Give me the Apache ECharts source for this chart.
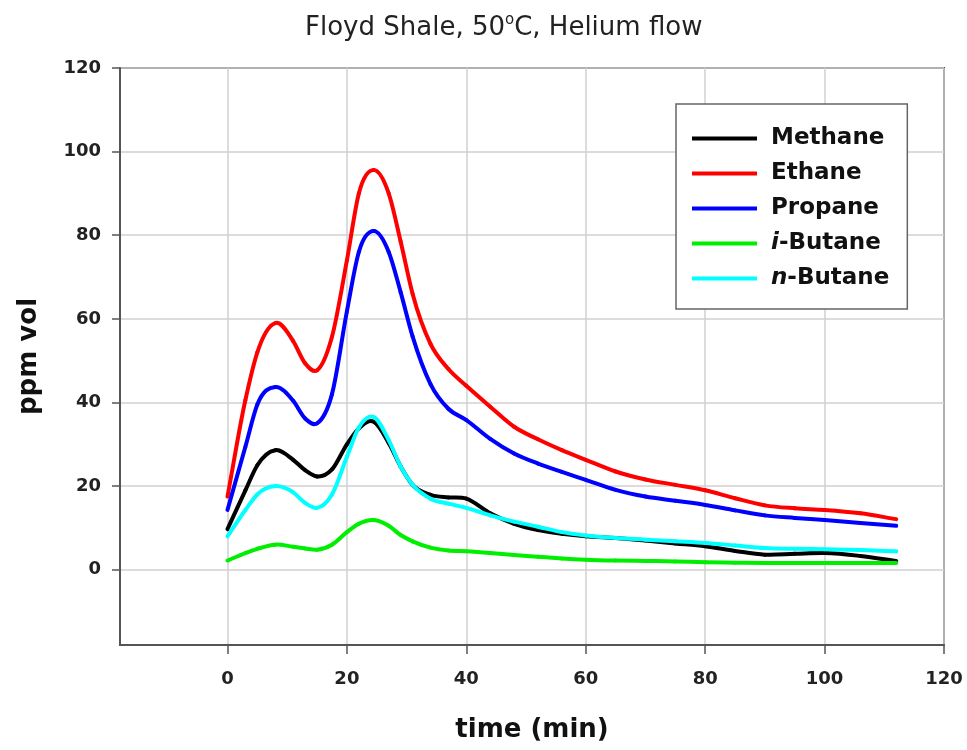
<!DOCTYPE html>
<html>
<head>
<meta charset="utf-8">
<script src="https://cdn.jsdelivr.net/npm/echarts@6/dist/echarts.min.js"></script>
<style>
html,body{margin:0;padding:0;background:#fff;}
#chart{width:967px;height:750px;}
</style>
</head>
<body>
<div id="chart"></div>
<script>
// time (min)
var times   = [0, 3, 5, 8, 11, 13, 15, 17.5, 20, 22, 24.5, 27, 29, 31, 34, 37, 40, 44, 48, 52, 56, 60, 65, 70, 75, 80, 85, 90, 95, 100, 106, 112];
var methane = [9.7, 19, 25, 28.6, 26.3, 23.8, 22.3, 24, 30, 33.8, 35.4, 30.3, 24.7, 20.3, 17.9, 17.3, 17, 13.5, 11, 9.5, 8.6, 8, 7.6, 7, 6.3, 5.6, 4.5, 3.6, 3.8, 4, 3.3, 2.1];
var ethane  = [17.5, 40.6, 52, 59, 54.7, 49.4, 47.7, 55.7, 74, 90, 95.6, 90, 78.5, 66, 54, 48, 44, 39, 34.2, 31.2, 28.6, 26.3, 23.5, 21.6, 20.3, 19, 17.1, 15.4, 14.7, 14.3, 13.5, 12.1];
var propane = [14.3, 29.4, 39.5, 43.7, 40.4, 36.2, 35, 42, 61.8, 76, 81, 76, 66.4, 55.8, 44.4, 38.5, 35.8, 31.3, 27.8, 25.4, 23.4, 21.5, 19.1, 17.5, 16.5, 15.5, 14.2, 13, 12.4, 11.9, 11.2, 10.5];
var iButane = [2.2, 4, 5, 6, 5.5, 5.1, 4.8, 6, 9, 11, 11.9, 10.5, 8.3, 6.8, 5.3, 4.6, 4.4, 4, 3.5, 3.1, 2.7, 2.4, 2.2, 2.1, 2, 1.8, 1.7, 1.6, 1.6, 1.6, 1.6, 1.6];
var nButane = [8, 14.3, 18, 20, 18.5, 16, 14.8, 18, 27, 34, 36.5, 31, 24.7, 20.3, 17, 15.8, 14.8, 13, 11.5, 10.3, 9, 8.2, 7.6, 7.2, 6.8, 6.4, 5.8, 5.2, 5, 4.9, 4.7, 4.4];
var seriesNames = ['Methane', 'Ethane', 'Propane', 'i-Butane', 'n-Butane'];
var xTicks = [0, 20, 40, 60, 80, 100, 120];
var yTicks = [0, 20, 40, 60, 80, 100, 120];

var colors = ['#000000', '#ff0000', '#0000ff', '#00ee00', '#00ffff'];
var allValues = [methane, ethane, propane, iButane, nButane];

function pairs(vals) { return times.map(function (t, i) { return [t, vals[i]]; }); }

// Cubic Hermite spline (three-point tangents) through the pixel positions given by the axes.
function splineRenderer(vals, color) {
  return function (params, api) {
    if (params.dataIndex !== 0) return null;
    var pts = times.map(function (t, i) { return api.coord([t, vals[i]]); });
    var n = pts.length, d = [], m = [];
    for (var i = 0; i < n - 1; i++) d.push((pts[i + 1][1] - pts[i][1]) / (pts[i + 1][0] - pts[i][0]));
    m[0] = d[0]; m[n - 1] = d[n - 2];
    for (var j = 1; j < n - 1; j++) {
      var h0 = pts[j][0] - pts[j - 1][0], h1 = pts[j + 1][0] - pts[j][0];
      m[j] = (d[j - 1] * h1 + d[j] * h0) / (h0 + h1);
    }
    var children = [];
    for (var k = 0; k < n - 1; k++) {
      var h = pts[k + 1][0] - pts[k][0];
      children.push({
        type: 'bezierCurve',
        shape: {
          x1: pts[k][0], y1: pts[k][1],
          cpx1: pts[k][0] + h / 3, cpy1: pts[k][1] + m[k] * h / 3,
          cpx2: pts[k + 1][0] - h / 3, cpy2: pts[k + 1][1] - m[k + 1] * h / 3,
          x2: pts[k + 1][0], y2: pts[k + 1][1]
        },
        style: { stroke: color, lineWidth: 4, fill: null, lineCap: 'round', lineJoin: 'round' },
        silent: true
      });
    }
    return { type: 'group', children: children };
  };
}

var chart = echarts.init(document.getElementById('chart'));
var FONT = 'DejaVu Sans';
var option = {
  animation: false,
  backgroundColor: '#ffffff',
  title: {
    left: 300, top: 6,
    text: '{a|Floyd Shale, 50}{s|o}{a|C, Helium flow}',
    textStyle: {
      fontWeight: 'normal',
      rich: {
        a: { fontFamily: FONT, fontWeight: 'normal', fontSize: 26, color: '#222', lineHeight: 30, verticalAlign: 'bottom' },
        s: { fontFamily: FONT, fontWeight: 'normal', fontSize: 15, color: '#222', lineHeight: 30, verticalAlign: 'top', padding: [2, 0, 0, 0] }
      }
    }
  },
  grid: { left: 120, right: 23, top: 68, bottom: 105, show: true, borderColor: '#555', borderWidth: 2, backgroundColor: 'transparent' },
  legend: {
    orient: 'vertical',
    left: 676, top: 104,
    backgroundColor: '#fff',
    borderColor: '#666', borderWidth: 1.5, borderRadius: 0,
    padding: [23, 18, 19, 16],
    itemWidth: 65, itemHeight: 4, itemGap: 12,
    icon: 'rect',
    data: seriesNames,
    formatter: function (name) {
      if (name === 'i-Butane') return '{it|i}{b|-Butane}';
      if (name === 'n-Butane') return '{it|n}{b|-Butane}';
      return '{b|' + name + '}';
    },
    textStyle: {
      padding: [0, 0, 0, 9],
      rich: {
        b: { fontFamily: FONT, fontWeight: 'bold', fontSize: 23, color: '#111', lineHeight: 24 },
        it: { fontFamily: FONT, fontWeight: 'bold', fontStyle: 'italic', fontSize: 23, color: '#111', lineHeight: 24 }
      }
    }
  },
  xAxis: {
    type: 'value', min: -18, max: 120,
    name: 'time (min)', nameLocation: 'middle', nameGap: 72,
    nameTextStyle: { fontFamily: FONT, fontWeight: 'bold', fontSize: 26, color: '#111' },
    axisLine: { show: true, onZero: false, lineStyle: { color: '#555', width: 2 } },
    axisTick: { show: true, inside: false, length: 9, customValues: xTicks, lineStyle: { color: '#555', width: 1.5 } },
    axisLabel: { customValues: xTicks, margin: 25, fontFamily: FONT, fontWeight: 'bold', fontSize: 18, color: '#222' },
    splitLine: { show: true, lineStyle: { color: '#d0d0d0', width: 1.5 } }
  },
  yAxis: {
    type: 'value', min: -18, max: 120,
    name: 'ppm vol', nameLocation: 'middle', nameGap: 78, nameRotate: 90,
    nameTextStyle: { fontFamily: FONT, fontWeight: 'bold', fontSize: 26, color: '#111' },
    axisLine: { show: true, onZero: false, lineStyle: { color: '#555', width: 2 } },
    axisTick: { show: true, inside: false, length: 8, customValues: yTicks, lineStyle: { color: '#555', width: 1.5 } },
    axisLabel: { customValues: yTicks, margin: 19, fontFamily: FONT, fontWeight: 'bold', fontSize: 18, color: '#222' },
    splitLine: { show: true, lineStyle: { color: '#d0d0d0', width: 1.5 } }
  },
  series: seriesNames.map(function (n, i) {
    return {
      name: n, type: 'custom',
      coordinateSystem: 'cartesian2d',
      encode: { x: 0, y: 1 },
      data: pairs(allValues[i]),
      itemStyle: { color: colors[i] },
      renderItem: splineRenderer(allValues[i], colors[i]),
      z: 3 + i
    };
  })
};
chart.setOption(option);
</script>
</body>
</html>
